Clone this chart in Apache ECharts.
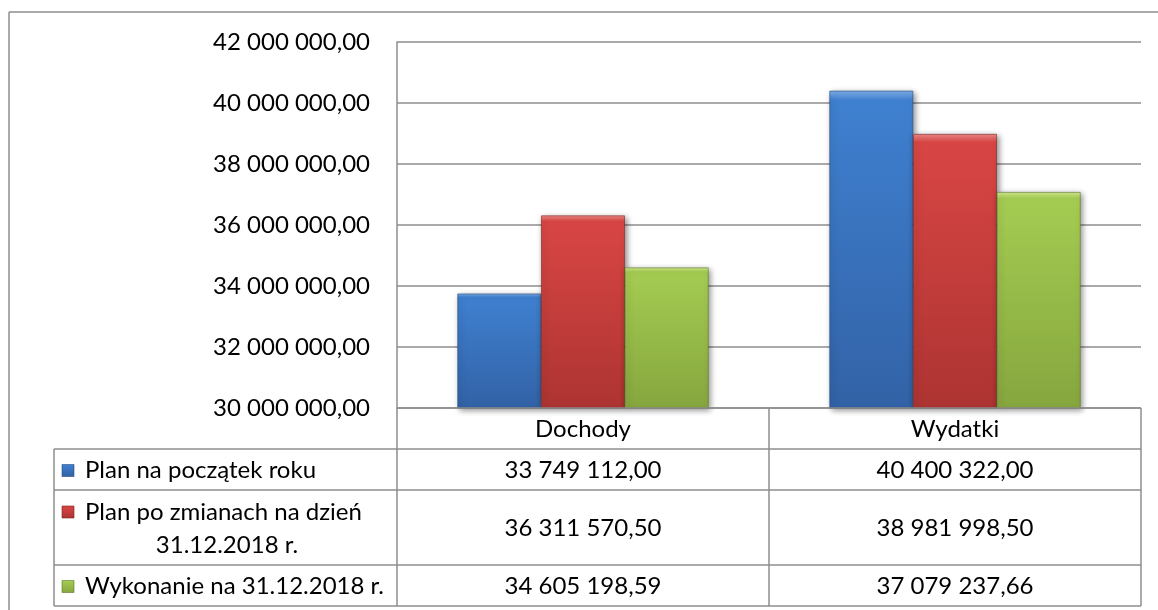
<!DOCTYPE html>
<html lang="pl">

<head>
    <meta charset="UTF-8">
    <title>Dochody i wydatki</title>
    <script src="https://cdn.jsdelivr.net/npm/echarts@6/dist/echarts.min.js"></script>
    <style>
        html, body { margin: 0; padding: 0; background: #fff; }
    </style>
</head>

<body>
    <div id="chart" style="width: 1158px; height: 610px;"></div>
    <script>
        // dane
        const categories = ['Dochody', 'Wydatki'];
        const seriesNames = ['Plan na początek roku', 'Plan po zmianach na dzień 31.12.2018 r.', 'Wykonanie na 31.12.2018 r.'];
        const planStart = [33749112.00, 40400322.00];
        const planChanged = [36311570.50, 38981998.50];
        const execution = [34605198.59, 37079237.66];
        const yMin = 30000000, yMax = 42000000, yStep = 2000000;

        const FONT = 'Lato';
        const FS = 24;
        const chart = echarts.init(document.getElementById('chart'));

        // 42 000 000,00
        function fmt(n) {
            const parts = n.toFixed(2).split('.');
            return parts[0].replace(/\B(?=(\d{3})+(?!\d))/g, ' ') + ',' + parts[1];
        }

        // kolory w stylu Office (góra jaśniejsza, dół ciemniejszy)
        const palette = [
            { light: '#7fb0ea', top: '#3f80d0', bottom: '#3262a6', edge: '#24487c' },
            { light: '#f08a88', top: '#d84644', bottom: '#ad3432', edge: '#7c2422' },
            { light: '#d3ec8e', top: '#a4cc52', bottom: '#86a63e', edge: '#5d7528' }
        ];

        function barFill(c) {
            return new echarts.graphic.LinearGradient(0, 0, 0, 1, [
                { offset: 0, color: c.light },
                { offset: 0.03, color: c.top },
                { offset: 1, color: c.bottom }
            ]);
        }

        const seriesData = [planStart, planChanged, execution];

        // tabela danych pod wykresem
        const gridL = 397, gridR = 1141, colMid = 769, tableL = 54;
        const rowY = [408, 449, 490, 565, 606];
        const lineStyle = { stroke: '#8e8e8e', lineWidth: 1.5 };
        const graphics = [];

        function hline(x1, x2, y) {
            graphics.push({ type: 'line', shape: { x1: x1, y1: y, x2: x2, y2: y }, style: lineStyle, z: 10 });
        }
        function vline(x, y1, y2) {
            graphics.push({ type: 'line', shape: { x1: x, y1: y1, x2: x, y2: y2 }, style: lineStyle, z: 10 });
        }
        function text(str, x, y, align) {
            graphics.push({
                type: 'text', x: x, y: y, z: 11,
                style: { text: str, fill: '#000', font: FS + 'px ' + FONT, align: align || 'center', verticalAlign: 'middle' }
            });
        }

        // zewnętrzna ramka
        graphics.push({ type: 'line', shape: { x1: 9, y1: 12, x2: 1158, y2: 12 }, style: { stroke: '#8e8e8e', lineWidth: 1.5 } });
        graphics.push({ type: 'line', shape: { x1: 9, y1: 12, x2: 9, y2: 610 }, style: { stroke: '#8e8e8e', lineWidth: 1.5 } });

        // siatka tabeli
        hline(gridL, gridR, rowY[0]);
        vline(gridL, rowY[0], rowY[4]);
        vline(colMid, rowY[0], rowY[4]);
        vline(gridR, rowY[0], rowY[4]);
        for (let i = 1; i < rowY.length; i++) hline(tableL, gridR, rowY[i]);
        vline(tableL, rowY[1], rowY[4]);

        const colCenters = [(gridL + colMid) / 2, (colMid + gridR) / 2];
        categories.forEach(function (c, i) { text(c, colCenters[i], (rowY[0] + rowY[1]) / 2 + 1); });

        const labelLines = [['Plan na początek roku'], ['Plan po zmianach na dzień', '31.12.2018 r.'], ['Wykonanie na 31.12.2018 r.']];
        for (let r = 0; r < 3; r++) {
            const y0 = rowY[r + 1], y1 = rowY[r + 2], yc = (y0 + y1) / 2 + 1;
            const c = palette[r];
            // klucz legendy
            graphics.push({
                type: 'rect', shape: { x: 62, y: (labelLines[r].length > 1 ? y0 + 16 : yc - 6), width: 12, height: 12 }, z: 11,
                style: { fill: barFill(c), stroke: c.edge, lineWidth: 0.6 }
            });
            if (labelLines[r].length === 1) {
                text(labelLines[r][0], 85, yc, 'left');
            } else {
                text(labelLines[r][0], 85, y0 + 22, 'left');
                text(labelLines[r][1], 227, y0 + 55, 'center');
            }
            seriesData[r].forEach(function (v, i) { text(fmt(v), colCenters[i], yc); });
        }

        const series = seriesData.map(function (d, i) {
            const c = palette[i];
            return {
                name: seriesNames[i],
                type: 'bar',
                data: d,
                barGap: '0%',
                barCategoryGap: '32.5%',
                itemStyle: {
                    color: barFill(c),
                    borderColor: c.edge,
                    borderWidth: 0.6,
                    shadowColor: 'rgba(0,0,0,0.45)',
                    shadowBlur: 6,
                    shadowOffsetX: 2,
                    shadowOffsetY: 2
                }
            };
        });

        chart.setOption({
            animation: false,
            grid: { left: gridL, right: 1158 - gridR, top: 42, bottom: 610 - 408 },
            xAxis: {
                type: 'category',
                data: categories,
                axisLine: { show: false },
                axisTick: { show: false },
                axisLabel: { show: false }
            },
            yAxis: {
                type: 'value',
                min: yMin,
                max: yMax,
                interval: yStep,
                axisLine: { show: true, lineStyle: { color: '#8e8e8e', width: 1.5 } },
                axisTick: { show: false },
                axisLabel: {
                    margin: 27,
                    color: '#000',
                    fontFamily: FONT,
                    fontSize: FS,
                    formatter: function (v) { return fmt(v); }
                },
                splitLine: { lineStyle: { color: '#8e8e8e', width: 1.5 } }
            },
            series: series,
            graphic: graphics
        });
    </script>
</body>

</html>
